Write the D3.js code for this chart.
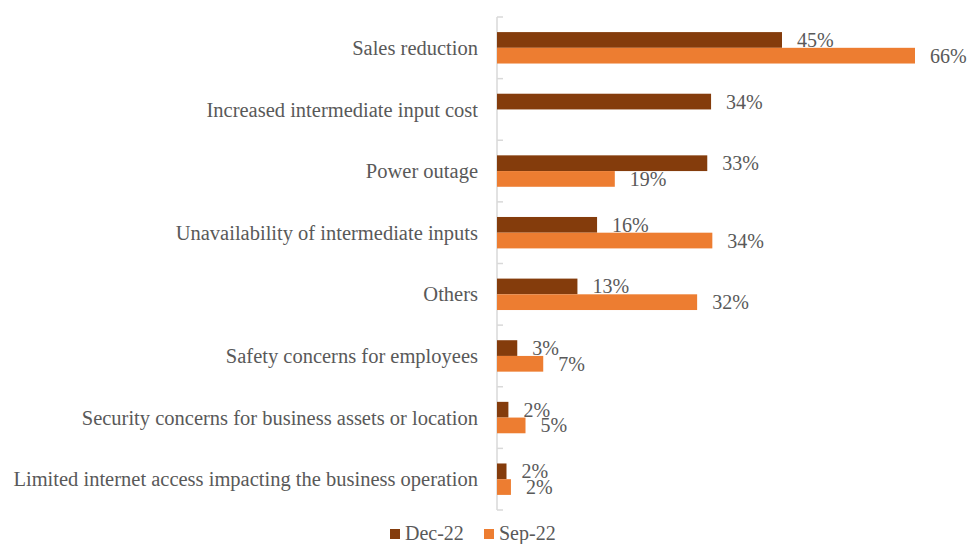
<!DOCTYPE html>
<html>
<head>
<meta charset="utf-8">
<script src="https://cdn.jsdelivr.net/npm/d3@7"></script>
<style>
  html, body { margin: 0; padding: 0; background: #fff; }
  svg { display: block; }
</style>
</head>
<body>
<svg id="chart" width="969" height="544"></svg>
<script>
// Obstacles reported by businesses, share of respondents (%)
const categories = [
  "Sales reduction",
  "Increased intermediate input cost",
  "Power outage",
  "Unavailability of intermediate inputs",
  "Others",
  "Safety concerns for employees",
  "Security concerns for business assets or location",
  "Limited internet access impacting the business operation"
];
const seriesNames = ["Dec-22", "Sep-22"];
const dec22 = [45, 33.8, 33.2, 15.8, 12.7, 3.2, 1.8, 1.5];
const sep22 = [66, null, 18.6, 34, 31.6, 7.3, 4.5, 2.2];
const seriesColors = ["#843C0C", "#ED7D31"];

const FONT = "'Liberation Serif', 'Times New Roman', Times, serif";
const TEXT_COLOR = "#595959";

const svg = d3.select("#chart");
const margin = { left: 497, top: 17, bottom: 34 };
const plotH = 544 - margin.top - margin.bottom;

const y = d3.scaleBand().domain(categories).range([margin.top, margin.top + plotH]).paddingInner(0.49).paddingOuter(0.245);
const x = d3.scaleLinear().domain([0, 66]).range([margin.left, margin.left + 418]);
const barH = y.bandwidth() / 2;

// category axis: light grey line with ticks between categories
const band = y.step();
const tickYs = d3.range(categories.length + 1).map(i => margin.top + i * band);
svg.append("line")
  .attr("x1", margin.left).attr("x2", margin.left)
  .attr("y1", tickYs[0]).attr("y2", tickYs[tickYs.length - 1])
  .attr("stroke", "#D9D9D9").attr("stroke-width", 1.5);
svg.selectAll(".tick").data(tickYs).join("line")
  .attr("x1", margin.left).attr("x2", margin.left + 6)
  .attr("y1", d => d).attr("y2", d => d)
  .attr("stroke", "#D9D9D9").attr("stroke-width", 1.5);

// category labels
svg.selectAll(".cat").data(categories).join("text")
  .attr("class", "cat")
  .attr("x", margin.left - 19)
  .attr("y", d => y(d) + y.bandwidth() / 2)
  .attr("dy", "0.35em")
  .attr("text-anchor", "end")
  .attr("font-family", FONT)
  .attr("font-size", 20.5)
  .attr("fill", TEXT_COLOR)
  .text(d => d);

const series = [dec22, sep22];
series.forEach((vals, si) => {
  const rows = categories.map((c, i) => ({ c, v: vals[i] })).filter(d => d.v != null);
  const g = svg.append("g");
  g.selectAll("rect").data(rows).join("rect")
    .attr("x", x(0))
    .attr("y", d => y(d.c) + si * barH)
    .attr("width", d => x(d.v) - x(0))
    .attr("height", barH)
    .attr("fill", seriesColors[si]);
  g.selectAll("text").data(rows).join("text")
    .attr("x", d => x(d.v) + 15)
    .attr("y", d => y(d.c) + si * barH + barH / 2)
    .attr("dy", "0.35em")
    .attr("font-family", FONT)
    .attr("font-size", 20)
    .attr("fill", TEXT_COLOR)
    .text(d => Math.round(d.v) + "%");
});

// legend
const legend = svg.append("g");
const legendItems = [{ name: seriesNames[0], x: 390 }, { name: seriesNames[1], x: 484 }];
legendItems.forEach((d, i) => {
  legend.append("rect").attr("x", d.x).attr("y", 529).attr("width", 10).attr("height", 10).attr("fill", seriesColors[i]);
  legend.append("text").attr("x", d.x + 15).attr("y", 540)
    .attr("font-family", FONT).attr("font-size", 20).attr("fill", TEXT_COLOR)
    .text(d.name);
});
</script>
</body>
</html>
